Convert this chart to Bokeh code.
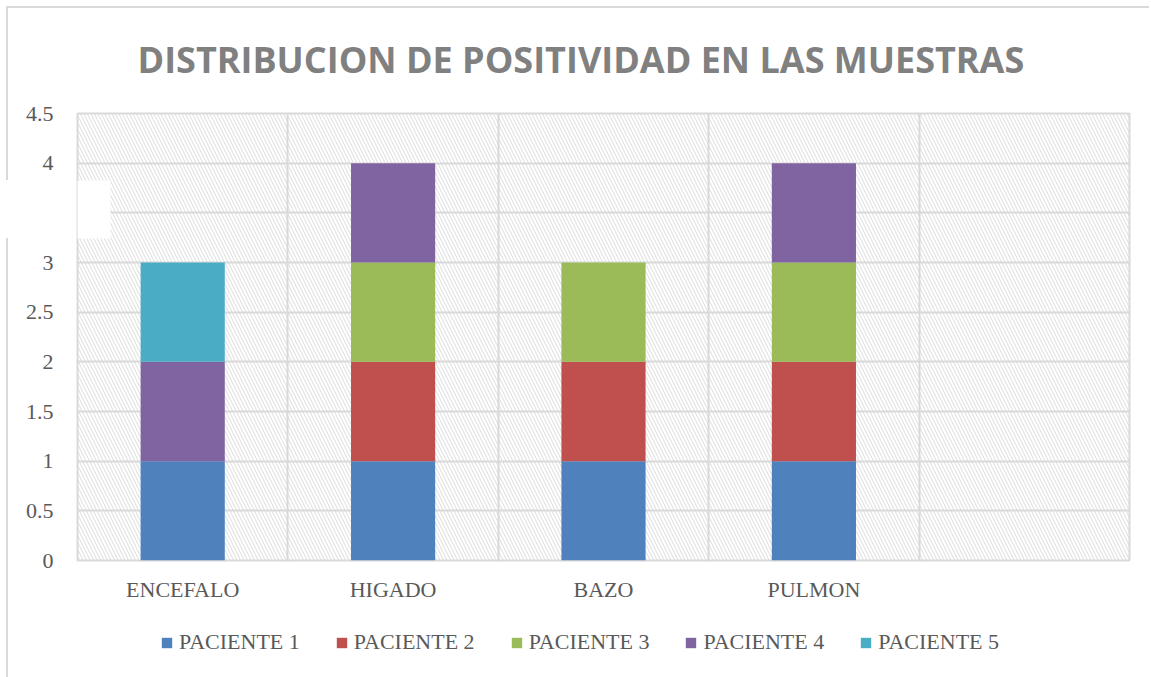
from bokeh.plotting import figure
from bokeh.layouts import column
from bokeh.models import FixedTicker, Legend, LegendItem, Range1d, ColumnDataSource
from bokeh.embed import file_html
from bokeh.resources import INLINE

categories = ["ENCEFALO", "HIGADO", "BAZO", "PULMON", ""]
paciente_1 = [1, 1, 1, 1, 0]
paciente_2 = [0, 1, 1, 1, 0]
paciente_3 = [0, 1, 1, 1, 0]
paciente_4 = [1, 1, 0, 1, 0]
paciente_5 = [1, 0, 0, 0, 0]
series_names = ["PACIENTE 1", "PACIENTE 2", "PACIENTE 3", "PACIENTE 4", "PACIENTE 5"]
colors = ["#4F81BD", "#C0504D", "#9BBB59", "#8064A2", "#4BACC6"]
y_ticks = [0, 0.5, 1, 1.5, 2, 2.5, 3, 3.5, 4, 4.5]
y_tick_labels = ["0", "0.5", "1", "1.5", "2", "2.5", "3", "", "4", "4.5"]
title_text = "DISTRIBUCION DE POSITIVIDAD EN LAS MUESTRAS"

x = list(range(len(categories)))
source = ColumnDataSource(dict(
    x=x,
    **{series_names[0]: paciente_1, series_names[1]: paciente_2,
       series_names[2]: paciente_3, series_names[3]: paciente_4,
       series_names[4]: paciente_5}))

xr = Range1d(-0.5, len(categories) - 0.5)
yr = Range1d(0, 4.5)

p = figure(frame_width=1052, frame_height=447, x_range=xr, y_range=yr,
           output_backend="svg", toolbar_location=None,
           min_border_left=77, min_border_right=20,
           min_border_top=113, min_border_bottom=57)
p.border_fill_color = None
line = "linear-gradient(#d9d9d9, #d9d9d9)"
p.styles = {
    "background-color": "white",
    "background-image": f"{line}, {line}, {line}",
    "background-size": "1145px 2px, 2px 174px, 2px 440px",
    "background-position": "6px 6px, 6px 6px, 6px 238px",
    "background-repeat": "no-repeat",
}

p.title.text = title_text
p.title.text_font = "Open Sans"
p.title.text_font_style = "bold"
p.title.text_font_size = "36px"
p.title.text_color = "#808080"
p.title.align = "left"
p.title.offset = 60
p.title.standoff = 60

p.outline_line_color = "#d9d9d9"
p.outline_line_width = 2
p.background_fill_color = "white"

# hatched plot area background
p.quad(left=xr.start, right=xr.end, bottom=yr.start, top=yr.end,
       fill_color=None, line_color=None,
       hatch_pattern="left_diagonal_line", hatch_color="#dcdcdc",
       hatch_scale=7, hatch_weight=1, level="image")

renderers = p.vbar_stack(series_names, x="x", width=0.4, color=colors,
                         line_color=None, source=source)

# white patch covering part of axis area
p.quad(left=xr.start, right=-0.343, bottom=3.242, top=3.826,
       fill_color="white", line_color=None, level="overlay")

p.xgrid.ticker = FixedTicker(ticks=[i - 0.5 for i in range(len(categories) + 1)])
p.ygrid.ticker = FixedTicker(ticks=y_ticks)
for g in (p.xgrid, p.ygrid):
    g.grid_line_color = "#d9d9d9"
    g.grid_line_width = 2

p.xaxis.ticker = FixedTicker(ticks=x[:4])
p.xaxis.major_label_overrides = {i: c for i, c in zip(x, categories)}
p.yaxis.ticker = FixedTicker(ticks=y_ticks)
p.yaxis.major_label_overrides = {t: l for t, l in zip(y_ticks, y_tick_labels)}

for ax in (p.xaxis, p.yaxis):
    ax.axis_line_color = None
    ax.major_tick_line_color = None
    ax.minor_tick_line_color = None
    ax.major_label_text_font = "Liberation Serif"
    ax.major_label_text_font_size = "22px"
    ax.major_label_text_color = "#595959"
p.xaxis.major_label_standoff = 10
p.yaxis.major_label_standoff = 18

# legend strip below the chart (same series, drawn out of view; only the legend shows)
pl = figure(width=1149, height=60, x_range=Range1d(100, 101), y_range=Range1d(100, 101),
            output_backend="svg", toolbar_location=None,
            x_axis_type=None, y_axis_type=None, min_border=0)
pl.grid.visible = False
pl.outline_line_color = None
pl.border_fill_color = None
pl.background_fill_color = None
pl.styles = {
    "background-color": "white",
    "background-image": line,
    "background-size": "2px 100%",
    "background-position": "6px 0px",
    "background-repeat": "no-repeat",
}
leg_renderers = pl.vbar_stack(series_names, x="x", width=0.4, color=colors,
                              line_color=None, source=source)
legend = Legend(items=[LegendItem(label=n, renderers=[r]) for n, r in zip(series_names, leg_renderers)],
                orientation="horizontal", location=(83, 22),
                label_text_font="Liberation Serif", label_text_font_size="22px",
                label_text_color="#595959", glyph_width=13, glyph_height=13,
                label_standoff=6, spacing=35, border_line_color=None,
                background_fill_alpha=0, margin=0, padding=0)
pl.add_layout(legend, "center")

layout = column(p, pl, spacing=0)
open("out.html", "w").write(file_html(layout, INLINE))
